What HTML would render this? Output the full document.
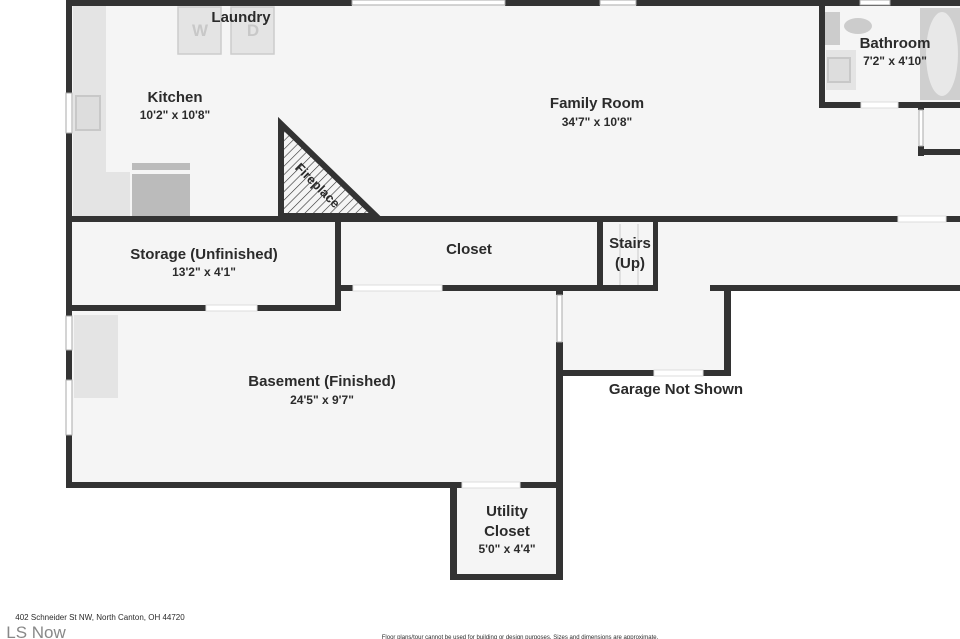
<!DOCTYPE html>
<html><head><style>
html,body{margin:0;padding:0;background:#fff;width:960px;height:639px;overflow:hidden}
svg{display:block}
text{font-family:"Liberation Sans",sans-serif;fill:#2b2b2b;text-anchor:middle}
.t{font-size:15px;font-weight:bold}
.d{font-size:12px;font-weight:bold}
</style></head><body>
<svg width="960" height="639" viewBox="0 0 960 639">
<defs><pattern id="h" width="6" height="6" patternUnits="userSpaceOnUse" patternTransform="rotate(45)"><line x1="0" y1="0" x2="0" y2="6" stroke="#333" stroke-width="1.2"/></pattern></defs>
<g fill="#f5f5f5">
<rect x="70" y="3" width="890" height="216"/>
<rect x="70" y="219" width="890" height="70"/>
<rect x="70" y="289" width="490" height="196"/>
<rect x="560" y="289" width="168" height="84"/>
<rect x="453" y="485" width="107" height="93"/>
</g>
<g fill="#e4e4e4">
<rect x="73" y="6" width="33" height="210"/><rect x="73" y="172" width="57" height="44"/>
<rect x="178" y="7" width="43" height="47" stroke="#ccc" stroke-width="1.5"/>
<rect x="231" y="7" width="43" height="47" stroke="#ccc" stroke-width="1.5"/>
<rect x="74" y="315" width="44" height="83"/>
<rect x="826" y="50" width="30" height="40"/>
<rect x="920" y="8" width="40" height="92" fill="#cfcfcf"/>
</g>
<rect x="76" y="96" width="24" height="34" fill="#ddd" stroke="#c8c8c8" stroke-width="2"/>
<rect x="132" y="163" width="58" height="7" fill="#bbb"/><rect x="132" y="174" width="58" height="42" fill="#bbb"/>
<rect x="825" y="12" width="15" height="33" fill="#ccc"/><ellipse cx="858" cy="26" rx="14" ry="8" fill="#ccc"/>
<rect x="828" y="58" width="22" height="24" fill="#ddd" stroke="#c8c8c8" stroke-width="2"/>
<ellipse cx="942" cy="54" rx="16" ry="42" fill="#e8e8e8"/>
<text x="200" y="36" style="font-size:17px;font-weight:bold;fill:#c8c8c8">W</text>
<text x="253" y="36" style="font-size:17px;font-weight:bold;fill:#c8c8c8">D</text>
<g fill="#333">
<rect x="66" y="0" width="286" height="6"/><rect x="505" y="0" width="95" height="6"/><rect x="636" y="0" width="324" height="6"/>
<rect x="66" y="0" width="6" height="93"/><rect x="66" y="133" width="6" height="183"/><rect x="66" y="350" width="6" height="30"/><rect x="66" y="435" width="6" height="53"/>
<rect x="66" y="216" width="832" height="6"/><rect x="946" y="216" width="14" height="6"/>
<rect x="819" y="0" width="6" height="108"/><rect x="819" y="102" width="42" height="6"/><rect x="898" y="102" width="62" height="6"/>
<rect x="918" y="102" width="6" height="8"/><rect x="918" y="146" width="6" height="10"/><rect x="918" y="149" width="42" height="6"/>
<rect x="335" y="222" width="6" height="89"/><rect x="66" y="305" width="140" height="6"/><rect x="257" y="305" width="84" height="6"/>
<rect x="341" y="285" width="12" height="6"/><rect x="442" y="285" width="215" height="6"/>
<rect x="597" y="222" width="6" height="69"/><rect x="653" y="222" width="5" height="69"/>
<rect x="710" y="285" width="250" height="6"/><rect x="724" y="285" width="7" height="91"/>
<rect x="556" y="291" width="7" height="4"/><rect x="556" y="342" width="7" height="238"/>
<rect x="563" y="370" width="91" height="6"/><rect x="703" y="370" width="28" height="6"/>
<rect x="66" y="482" width="396" height="6"/><rect x="520" y="482" width="43" height="6"/>
<rect x="450" y="482" width="7" height="98"/><rect x="450" y="574" width="113" height="6"/>
</g>
<g fill="#fff" stroke="#ddd" stroke-width="1">
<rect x="206" y="305" width="51" height="6"/><rect x="353" y="285" width="89" height="6"/>
<rect x="654" y="370" width="49" height="6"/><rect x="462" y="482" width="58" height="6"/>
<rect x="898" y="216" width="48" height="6"/><rect x="861" y="102" width="37" height="6"/>
</g>
<g stroke="#ccc" stroke-width="1"><line x1="620" y1="224" x2="620" y2="285"/><line x1="638" y1="224" x2="638" y2="285"/></g>
<g fill="#fff" stroke="#aaa" stroke-width="1">
<rect x="352" y="0" width="153" height="5"/><rect x="600" y="0" width="36" height="5"/><rect x="860" y="0" width="30" height="5"/>
<rect x="66" y="93" width="6" height="40"/><rect x="66" y="316" width="6" height="34"/><rect x="66" y="380" width="6" height="55"/>
<rect x="557" y="295" width="5" height="47"/><rect x="919" y="110" width="4" height="36"/>
</g>
<polygon points="281,124 281,216 376,216" fill="url(#h)" stroke="#333" stroke-width="6" stroke-linejoin="miter"/>
<text x="318" y="190" class="d" style="font-size:13px" transform="rotate(45 318 185)">Fireplace</text>
<text x="241" y="22" class="t">Laundry</text>
<text x="175" y="102" class="t">Kitchen</text><text x="175" y="119" class="d">10'2" x 10'8"</text>
<text x="597" y="108" class="t">Family Room</text><text x="597" y="126" class="d">34'7" x 10'8"</text>
<text x="895" y="48" class="t">Bathroom</text><text x="895" y="65" class="d">7'2" x 4'10"</text>
<text x="204" y="259" class="t">Storage (Unfinished)</text><text x="204" y="276" class="d">13'2" x 4'1"</text>
<text x="469" y="254" class="t">Closet</text>
<text x="630" y="248" class="t">Stairs</text><text x="630" y="268" class="t">(Up)</text>
<text x="322" y="386" class="t">Basement (Finished)</text><text x="322" y="404" class="d">24'5" x 9'7"</text>
<text x="676" y="394" class="t">Garage Not Shown</text>
<text x="507" y="516" class="t">Utility</text><text x="507" y="536" class="t">Closet</text><text x="507" y="553" class="d">5'0" x 4'4"</text>
<text x="100" y="620" style="font-size:8px;text-anchor:middle">402 Schneider St NW, North Canton, OH 44720</text>
<text x="36" y="638" style="font-size:17px;fill:#888;text-anchor:middle">LS Now</text>
<text x="520" y="639" style="font-size:6px">Floor plans/tour cannot be used for building or design purposes. Sizes and dimensions are approximate.</text>
</svg>
</body></html>
